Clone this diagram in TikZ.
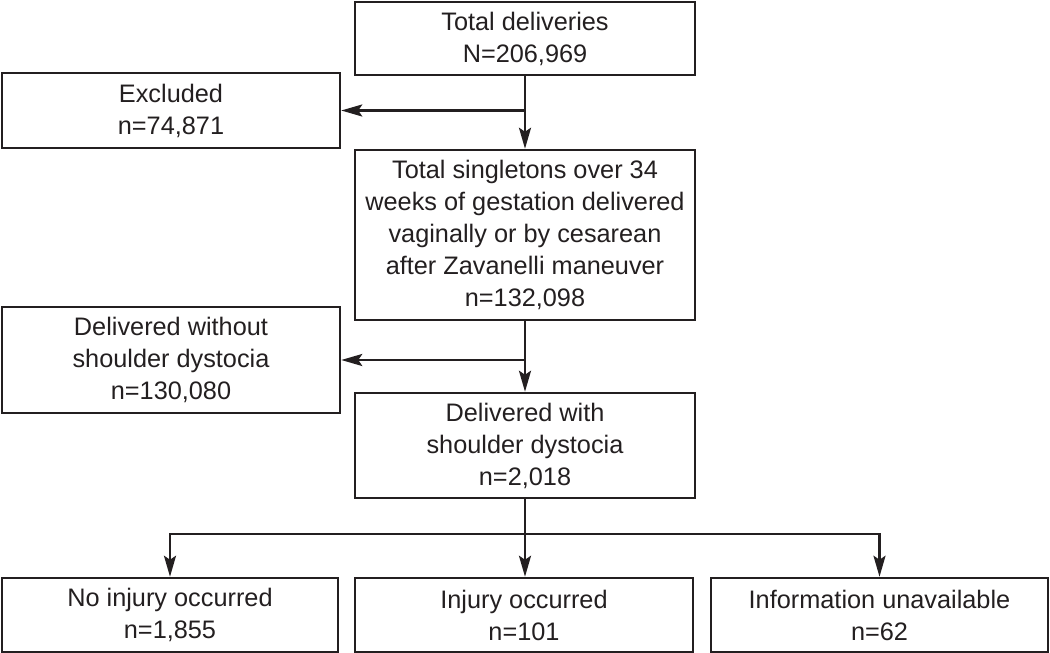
\documentclass[tikz,border=0pt]{standalone}
\usepackage{fontspec}
\setmainfont{Liberation Sans}
\usetikzlibrary{arrows.meta}
\definecolor{ink}{HTML}{231F20}
\begin{document}
\begin{tikzpicture}[x=1pt,y=-1pt,
  box/.style={draw=ink, line width=2.5pt, text=ink, align=center, inner sep=0pt,
    font=\fontsize{25.3pt}{32pt}\selectfont},
  conn/.style={draw=ink, line width=2.5pt},
  arr/.style={conn, -{Stealth[length=21pt,width=12pt,inset=4pt]}}]
\useasboundingbox (0,0) rectangle (1050,653);
\node[box, minimum width=340pt, minimum height=73pt] (total) at (525,38.5) {Total deliveries\\N=206,969};
\node[box, minimum width=338pt, minimum height=75pt] (excl) at (171,110.5) {Excluded\\n=74,871};
\node[box, minimum width=340pt, minimum height=170pt] (single) at (525,235) {Total singletons over 34\\weeks of gestation delivered\\vaginally or by cesarean\\after Zavanelli maneuver\\n=132,098};
\node[box, minimum width=338pt, minimum height=106pt] (without) at (171,360) {Delivered without\\shoulder dystocia\\n=130,080};
\node[box, minimum width=340pt, minimum height=105pt] (with) at (525,445.5) {Delivered with\\shoulder dystocia\\n=2,018};
\node[box, minimum width=336pt, minimum height=74pt] (noinj) at (170,615) {No injury occurred\\n=1,855};
\node[box, minimum width=338pt, minimum height=74pt] (inj) at (524,615) {Injury occurred\\n=101};
\node[box, minimum width=337pt, minimum height=74pt] (info) at (879.5,615) {Information unavailable\\n=62};
\coordinate (j1) at (total.south |- excl.east);
\coordinate (j2) at (single.south |- without.east);
\coordinate (j3) at (525,534);
\draw[arr] (total.south) -- (single.north);
\draw[arr] (j1) -- (excl.east);
\draw[arr] (single.south) -- (with.north);
\draw[arr] (j2) -- (without.east);
\draw[conn] (with.south) -- (j3);
\draw[arr] (j3) -- (inj.north -| j3);
\draw[arr] (j3) -| (noinj.north);
\draw[arr] (j3) -| (info.north);
\end{tikzpicture}
\end{document}
